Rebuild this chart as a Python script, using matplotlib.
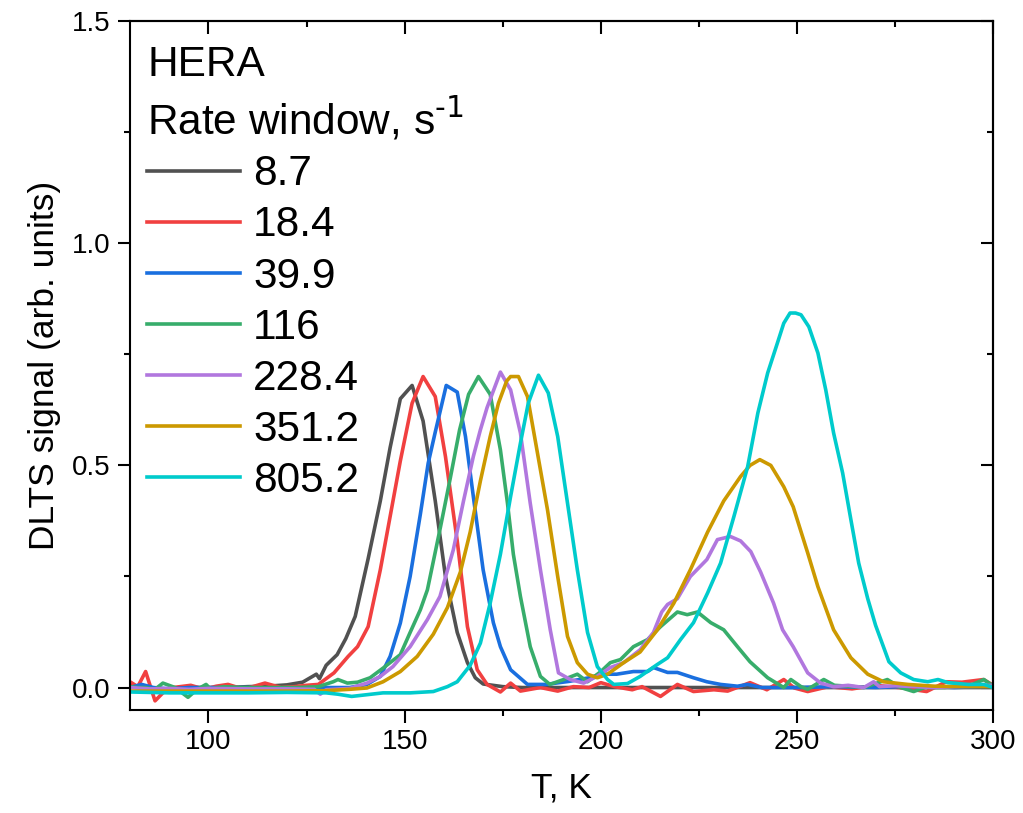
import matplotlib
matplotlib.use("Agg")
import matplotlib.pyplot as plt
from matplotlib.ticker import MultipleLocator

plt.rcParams['font.family'] = ['Liberation Sans', 'DejaVu Sans']
plt.rcParams['mathtext.default'] = 'regular'

# rate windows (s^-1) and Origin-style colours
rate_labels = ["8.7", "18.4", "39.9", "116", "228.4", "351.2", "805.2"]
colors = ["#515151", "#F14040", "#1A6FDF", "#37AD6B", "#B177DE", "#CC9900", "#00CBCC"]

# DLTS spectra: temperature (K) and signal (arb. units)
t_87 = [80, 85, 90, 95, 100, 105, 110, 115, 120, 124, 127.5, 128.3, 130, 132.8, 135,
        137.4, 140.7, 143.8, 146.3, 148.9, 151.9, 154.7, 157.8, 160.4, 163.4, 166, 168,
        170, 175, 180, 190, 200, 220, 240, 260, 280, 300]
s_87 = [0.005, 0.0, -0.005, 0.0, 0.0, 0.0, 0.002, 0.003, 0.006, 0.012, 0.03, 0.02, 0.05,
        0.074, 0.11, 0.16, 0.29, 0.42, 0.54, 0.65, 0.68, 0.60, 0.42, 0.25, 0.124, 0.056,
        0.022, 0.008, 0.002, 0.0, 0.0, 0.0, 0.0, 0.0, 0.0, 0.0, 0.0]

t_184 = [80, 82, 84, 86.4, 88.4, 91, 95.5, 99, 102, 105, 109, 114.4, 118.5, 122, 125, 128,
         132, 135.6, 138, 140.7, 143.8, 146.3, 148.9, 151.9, 154.7, 157.8, 160.4, 163.4,
         166, 168.5, 171, 174.4, 177, 179.5, 184.6, 189, 193, 197, 200, 203.5, 208, 210.5,
         215.2, 219.5, 223.6, 228.8, 232.3, 238, 242.3, 246.6, 249.3, 252.7, 258, 264, 270,
         276, 283, 288, 292, 297.5, 300]
s_184 = [0.013, 0.002, 0.036, -0.03, -0.012, 0.0, 0.005, -0.004, 0.003, 0.007, -0.004,
         0.01, 0.0, 0.002, 0.005, 0.007, 0.033, 0.07, 0.092, 0.137, 0.265, 0.385, 0.51,
         0.64, 0.70, 0.655, 0.52, 0.33, 0.137, 0.04, 0.007, -0.01, 0.01, -0.008, 0.0,
         -0.008, 0.002, 0.0, 0.011, 0.002, -0.005, 0.002, -0.02, 0.007, -0.009, -0.005,
         -0.008, 0.011, -0.005, 0.018, -0.001, -0.009, 0.002, -0.003, 0.005, 0.0, -0.009,
         0.013, 0.012, 0.018, 0.005]

t_399 = [80, 83, 86, 90, 95, 100, 110, 120, 130, 136, 140.4, 143.8, 146.3, 148.9, 151.4,
         154, 156, 157.8, 160.6, 163.4, 165.5, 167.5, 170, 172.6, 174.4, 177, 181.3, 186,
         192, 197, 200, 204, 208.3, 211.9, 213.4, 217, 219.5, 223.6, 227, 230.5, 234.8,
         237.4, 241, 250, 260, 270, 280, 290, 300]
s_399 = [0.0, 0.007, 0.0, -0.003, 0.0, 0.0, 0.0, -0.002, 0.0, 0.0, 0.007, 0.025, 0.07,
         0.145, 0.25, 0.39, 0.505, 0.575, 0.68, 0.665, 0.565, 0.43, 0.265, 0.146, 0.092,
         0.04, 0.007, 0.007, 0.014, 0.022, 0.03, 0.03, 0.036, 0.036, 0.045, 0.034, 0.034,
         0.022, 0.013, 0.007, 0.003, 0.007, 0.0, 0.0, 0.002, 0.0, 0.003, 0.0, 0.003]

t_116 = [80, 82, 84, 86.4, 88.4, 91.5, 94.8, 97, 99.4, 100.5, 104, 108, 113, 118, 123, 128,
         131.8, 133, 135.4, 138, 141.2, 144.7, 148.9, 151.4, 154, 155.8, 159.1, 161.6, 164,
         166.3, 168.8, 171.8, 174.4, 176.2, 177.7, 179.5, 182, 184.6, 187, 190.5, 194,
         196.6, 200, 202.4, 205, 208.3, 211.9, 215.2, 219.5, 222, 224.6, 228, 231.3, 234.8,
         238, 242.5, 246.6, 248.4, 251, 252.7, 256.8, 259.5, 263, 267, 273, 276.4, 279.7,
         282.5, 287.6, 290, 293.6, 297.6, 300]
s_116 = [0.002, 0.0, 0.0, -0.004, 0.01, 0.0, -0.022, -0.005, 0.007, -0.003, 0.002, 0.0,
         0.0, 0.0, 0.0, 0.002, 0.013, 0.018, 0.01, 0.012, 0.022, 0.045, 0.074, 0.124, 0.175,
         0.22, 0.36, 0.47, 0.58, 0.66, 0.70, 0.66, 0.535, 0.415, 0.30, 0.205, 0.092, 0.025,
         0.007, 0.018, 0.03, 0.013, 0.036, 0.056, 0.063, 0.092, 0.108, 0.137, 0.17, 0.164,
         0.17, 0.146, 0.13, 0.092, 0.058, 0.022, 0.0, 0.018, 0.002, -0.004, 0.018, 0.005,
         0.003, 0.0, 0.018, 0.0, -0.009, 0.0, 0.0, 0.003, 0.003, 0.018, 0.003]

t_2284 = [80, 85, 90, 95, 100, 110, 120, 127, 128.5, 130, 136, 140.4, 143.8, 147, 151.4,
          155.8, 159, 162.4, 165, 167.5, 169.3, 171, 174.4, 177, 179.5, 182, 184.6, 187.1,
          189.2, 192.2, 195.6, 199, 202.4, 205.8, 210, 213.4, 215.5, 217, 219.5, 222.8, 227,
          229.7, 233, 235.6, 238.2, 240.7, 244, 246.3, 249, 252.7, 256, 259.3, 263, 267,
          269.5, 271, 275, 280, 285, 290, 295, 300]
s_2284 = [0.0, -0.003, -0.002, -0.004, -0.002, -0.003, -0.003, -0.004, -0.015, -0.005,
          -0.002, 0.01, 0.025, 0.047, 0.092, 0.153, 0.205, 0.31, 0.42, 0.52, 0.58, 0.63,
          0.71, 0.67, 0.573, 0.415, 0.265, 0.13, 0.033, 0.018, 0.01, 0.025, 0.045, 0.056,
          0.085, 0.124, 0.17, 0.187, 0.2, 0.25, 0.288, 0.333, 0.34, 0.33, 0.306, 0.26, 0.19,
          0.13, 0.092, 0.033, 0.01, 0.002, 0.005, 0.0, 0.013, 0.002, 0.004, 0.002, 0.0,
          0.002, 0.004, 0.005]

t_3512 = [80, 90, 100, 110, 120, 130, 136, 140.4, 144.5, 148.9, 153.2, 157.3, 160.9, 164.2,
          166.7, 169.3, 171.8, 173.9, 176, 177, 179, 181.3, 183.8, 186.4, 189, 191.5, 194,
          196.6, 199.1, 201.7, 205.8, 210, 214.4, 218.6, 222.8, 227.2, 231.3, 235.6, 238,
          240.5, 243.3, 246.6, 249, 252.7, 255.3, 259.3, 263.7, 268, 272, 278.2, 285, 292, 300]
s_3512 = [-0.008, -0.008, -0.008, -0.008, -0.008, -0.007, -0.004, -0.001, 0.013, 0.036,
          0.07, 0.12, 0.18, 0.26, 0.35, 0.465, 0.565, 0.64, 0.69, 0.70, 0.70, 0.655, 0.53,
          0.40, 0.25, 0.115, 0.056, 0.03, 0.022, 0.03, 0.056, 0.08, 0.13, 0.19, 0.265, 0.35,
          0.42, 0.475, 0.50, 0.513, 0.50, 0.452, 0.407, 0.303, 0.227, 0.13, 0.067, 0.03,
          0.013, 0.007, 0.003, 0.002, 0.002]

t_8052 = [80, 90, 100, 110, 120, 130, 133, 136.5, 144.5, 151.4, 157.3, 160.9, 163.4, 166.7,
          169.3, 171.8, 174.4, 177, 179.5, 181.5, 184.1, 186.6, 189, 191.5, 194, 196.6,
          199.1, 201.7, 203.3, 206.8, 210, 214.4, 217, 220.3, 223.6, 227.2, 230.5, 233.9,
          237.4, 240, 242.5, 245, 246.6, 248.2, 249.6, 251, 253, 255.3, 257.3, 259.3, 261.6,
          263.7, 265.7, 268, 270, 273.4, 276.4, 279.7, 283.3, 285.9, 288.5, 293.6, 297.6, 300]
s_8052 = [-0.01, -0.012, -0.012, -0.012, -0.011, -0.012, -0.015, -0.02, -0.012, -0.012,
          -0.009, 0.002, 0.013, 0.05, 0.10, 0.19, 0.30, 0.43, 0.55, 0.64, 0.703, 0.663,
          0.565, 0.415, 0.265, 0.124, 0.047, 0.018, 0.007, 0.009, 0.025, 0.052, 0.067,
          0.108, 0.146, 0.213, 0.28, 0.385, 0.497, 0.618, 0.708, 0.776, 0.82, 0.843, 0.843,
          0.839, 0.812, 0.753, 0.67, 0.573, 0.483, 0.378, 0.28, 0.2, 0.14, 0.058, 0.033,
          0.018, 0.013, 0.018, 0.011, 0.007, 0.007, 0.0]

temps = [t_87, t_184, t_399, t_116, t_2284, t_3512, t_8052]
signals = [s_87, s_184, s_399, s_116, s_2284, s_3512, s_8052]

fig = plt.figure(figsize=(10.23, 8.13), dpi=100)
ax = fig.add_axes([0.127, 0.127, 0.844, 0.847])

for t, s, lab, c in zip(temps, signals, rate_labels, colors):
    ax.plot(t, s, color=c, lw=2.6, label=lab)

ax.set_xlim(80, 300)
ax.set_ylim(-0.05, 1.5)
ax.xaxis.set_major_locator(MultipleLocator(50))
ax.xaxis.set_minor_locator(MultipleLocator(25))
ax.yaxis.set_major_locator(MultipleLocator(0.5))
ax.yaxis.set_minor_locator(MultipleLocator(0.25))
ax.tick_params(which='both', direction='out', width=1.5, labelsize=20)
ax.tick_params(which='major', length=9, pad=5)
ax.tick_params(which='minor', length=4.5)
for sp in ax.spines.values():
    sp.set_linewidth(1.5)

# mirrored ticks on top and right, pointing inwards, no labels
top = ax.secondary_xaxis('top')
top.xaxis.set_major_locator(MultipleLocator(50))
top.xaxis.set_minor_locator(MultipleLocator(25))
top.tick_params(which='both', direction='in', width=1.5, labeltop=False)
top.tick_params(which='major', length=9)
top.tick_params(which='minor', length=4.5)
top.spines['top'].set_linewidth(1.5)
right = ax.secondary_yaxis('right')
right.yaxis.set_major_locator(MultipleLocator(0.5))
right.yaxis.set_minor_locator(MultipleLocator(0.25))
right.tick_params(which='both', direction='in', width=1.5, labelright=False)
right.tick_params(which='major', length=9)
right.tick_params(which='minor', length=4.5)
right.spines['right'].set_linewidth(1.5)

ax.set_xlabel("T, K", fontsize=25.5, labelpad=12)
ax.set_ylabel("DLTS signal (arb. units)", fontsize=25.5, labelpad=8)

leg = ax.legend(title="HERA\nRate window, s$^{\\text{-1}}$", loc='upper left',
                bbox_to_anchor=(0.02, 0.966), borderaxespad=0, borderpad=0,
                frameon=False, fontsize=30.5, title_fontsize=30.5, alignment='left',
                handlelength=2.2, handletextpad=0.3, labelspacing=0.26)
leg.get_title().set_linespacing(1.3)

fig.savefig("out.png", dpi=100)
